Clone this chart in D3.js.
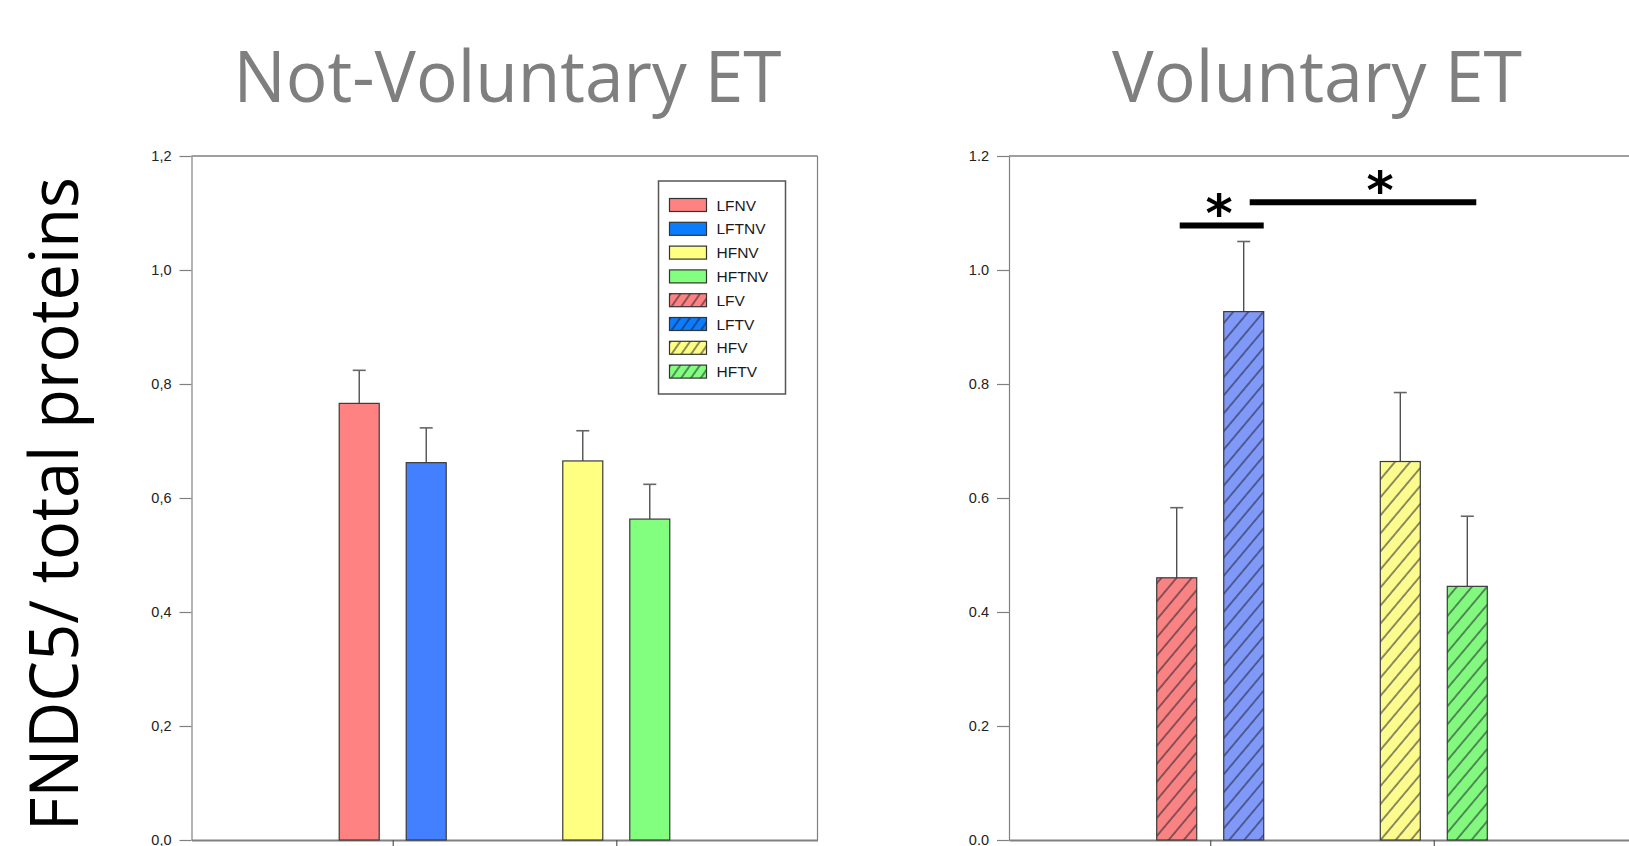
<!DOCTYPE html>
<html>
<head>
<meta charset="utf-8">
<script src="https://cdn.jsdelivr.net/npm/d3@7"></script>
<style>
  body { margin: 0; background: #fff; }
  svg { display: block; }
</style>
</head>
<body>
<svg id="chart" width="1629" height="846"></svg>
<script>

// ---- data ----
var groups = ['LF', 'HF'];
var subgroups = ['F', 'FT'];

var notVolNames = ['LFNV', 'LFTNV', 'HFNV', 'HFTNV'];
var notVolMeans = [0.766, 0.662, 0.665, 0.563];
var notVolErr   = [0.058, 0.061, 0.053, 0.061];

var volNames = ['LFV', 'LFTV', 'HFV', 'HFTV'];
var volMeans = [0.460, 0.927, 0.664, 0.445];
var volErr   = [0.123, 0.123, 0.121, 0.123];

var yTickValues = [0, 0.2, 0.4, 0.6, 0.8, 1.0, 1.2];
var yTickLabelsComma = ['0,0', '0,2', '0,4', '0,6', '0,8', '1,0', '1,2'];
var yTickLabelsDot   = ['0.0', '0.2', '0.4', '0.6', '0.8', '1.0', '1.2'];

var legendNames = ['LFNV', 'LFTNV', 'HFNV', 'HFTNV', 'LFV', 'LFTV', 'HFV', 'HFTV'];

// significance bars on the voluntary panel: [from bar, to bar], line height, star height
var sigPairs  = [[0, 1], [1, 3]];
var sigLineY  = [1.078, 1.119];
var sigStarY  = [1.116, 1.156];

// ---- look ----
var barFill = {
    LFNV: '#ff8282', LFTNV: '#4280ff', HFNV: '#ffff82', HFTNV: '#82ff7e',
    LFV: '#f98282', LFTV: '#8099f8', HFV: '#fcfb8e', HFTV: '#82f87e'
};
var legendFill = {
    LFNV: '#ff8282', LFTNV: '#0a7dff', HFNV: '#ffff82', HFTNV: '#82ff7e',
    LFV: '#ff8282', LFTV: '#0a7dff', HFV: '#ffff82', HFTV: '#82ff7e'
};
var hatched = function(name) { return /V$/.test(name) && !/NV$/.test(name); };

var plotTop = 156, plotBottom = 840, plotW = 626;
var axisGray = '#808080';

var svg = d3.select('#chart');

var defs = svg.append('defs');
function makeHatch(id, spacing, angle) {
    var p = defs.append('pattern')
        .attr('id', id)
        .attr('patternUnits', 'userSpaceOnUse')
        .attr('width', spacing)
        .attr('height', 20)
        .attr('patternTransform', 'rotate(' + angle + ')');
    p.append('line')
        .attr('x1', 1).attr('x2', 1)
        .attr('y1', 0).attr('y2', 20)
        .attr('stroke', '#1c1c2c')
        .attr('stroke-width', 1);
}
makeHatch('hatchBar', 11.6, 40);
makeHatch('hatchLegend', 8, 35);

var y = d3.scaleLinear().domain([0, 1.2]).range([plotBottom, plotTop]);

var xGroup = d3.scalePoint()
    .domain(groups)
    .range([0, plotW])
    .padding(0.9);

var xSub = d3.scaleBand()
    .domain(subgroups)
    .range([-53.5, 53.5])
    .paddingInner(27 / 67);

function barX(i) {
    return xGroup(groups[Math.floor(i / 2)]) + xSub(subgroups[i % 2]);
}

function drawPanel(cfg) {

    var g = svg.append('g')
        .attr('transform', 'translate(' + cfg.left + ',0)');

    // frame top + right
    g.append('line')
        .attr('x1', 0).attr('x2', plotW)
        .attr('y1', plotTop).attr('y2', plotTop)
        .attr('stroke', axisGray).attr('stroke-width', 1.5);
    g.append('line')
        .attr('x1', plotW).attr('x2', plotW)
        .attr('y1', plotTop).attr('y2', plotBottom)
        .attr('stroke', axisGray).attr('stroke-width', 1.2);

    var yAxis = g.append('g')
        .call(d3.axisLeft(y)
            .tickValues(yTickValues)
            .tickFormat(function(d, i) { return cfg.tickLabels[i]; })
            .tickSize(12)
            .tickSizeOuter(0)
            .tickPadding(8));
    yAxis.select('.domain').attr('stroke', axisGray).attr('stroke-width', 1.2);
    yAxis.selectAll('.tick line').attr('stroke', axisGray).attr('stroke-width', 1.2);
    yAxis.selectAll('.tick text')
        .attr('font-family', '"Liberation Sans", Arial, sans-serif')
        .attr('font-size', 14.5)
        .attr('fill', '#222');

    var xAxis = g.append('g')
        .attr('transform', 'translate(0,' + plotBottom + ')')
        .call(d3.axisBottom(xGroup)
            .tickFormat('')
            .tickSize(9)
            .tickSizeOuter(0));
    xAxis.select('.domain').attr('stroke', axisGray).attr('stroke-width', 2);
    xAxis.selectAll('.tick line').attr('stroke', '#555').attr('stroke-width', 1.2);

    var data = cfg.names.map(function(n, i) {
        return { name: n, mean: cfg.means[i], err: cfg.errs[i], i: i };
    });

    // error bars (upper whisker only)
    var eb = g.selectAll('.err').data(data).enter().append('g').attr('class', 'err');
    eb.append('line')
        .attr('x1', function(d) { return barX(d.i) + xSub.bandwidth() / 2; })
        .attr('x2', function(d) { return barX(d.i) + xSub.bandwidth() / 2; })
        .attr('y1', function(d) { return y(d.mean); })
        .attr('y2', function(d) { return y(d.mean + d.err); })
        .attr('stroke', '#444').attr('stroke-width', 1.3);
    eb.append('line')
        .attr('x1', function(d) { return barX(d.i) + xSub.bandwidth() / 2 - 6.5; })
        .attr('x2', function(d) { return barX(d.i) + xSub.bandwidth() / 2 + 6.5; })
        .attr('y1', function(d) { return y(d.mean + d.err); })
        .attr('y2', function(d) { return y(d.mean + d.err); })
        .attr('stroke', '#666').attr('stroke-width', 1.6);

    var bars = g.selectAll('.bar').data(data).enter().append('g').attr('class', 'bar');
    bars.append('rect')
        .attr('x', function(d) { return barX(d.i); })
        .attr('y', function(d) { return y(d.mean); })
        .attr('width', xSub.bandwidth())
        .attr('height', function(d) { return plotBottom - y(d.mean); })
        .attr('fill', function(d) { return barFill[d.name]; });
    bars.filter(function(d) { return hatched(d.name); })
        .append('rect')
        .attr('x', function(d) { return barX(d.i); })
        .attr('y', function(d) { return y(d.mean); })
        .attr('width', xSub.bandwidth())
        .attr('height', function(d) { return plotBottom - y(d.mean); })
        .attr('fill', 'url(#hatchBar)');
    bars.append('rect')
        .attr('x', function(d) { return barX(d.i); })
        .attr('y', function(d) { return y(d.mean); })
        .attr('width', xSub.bandwidth())
        .attr('height', function(d) { return plotBottom - y(d.mean); })
        .attr('fill', 'none')
        .attr('stroke', '#3a3a3a')
        .attr('stroke-width', 1.2);

    // title
    svg.append('text')
        .attr('x', cfg.left + cfg.titleDx)
        .attr('y', 101.5)
        .attr('text-anchor', 'middle')
        .attr('font-family', '"Open Sans", "Noto Sans", sans-serif')
        .attr('font-size', 71)
        .attr('fill', '#7f7f7f')
        .attr('textLength', cfg.titleLen)
        .attr('lengthAdjust', 'spacingAndGlyphs')
        .text(cfg.title);

    return g;
}

var left = drawPanel({
    left: 191.5,
    names: notVolNames, means: notVolMeans, errs: notVolErr,
    tickLabels: yTickLabelsComma,
    title: 'Not-Voluntary ET', titleDx: 316, titleLen: 548
});

var right = drawPanel({
    left: 1009,
    names: volNames, means: volMeans, errs: volErr,
    tickLabels: yTickLabelsDot,
    title: 'Voluntary ET', titleDx: 308, titleLen: 410
});

// legend in the not-voluntary panel
var lg = left.append('g').attr('transform', 'translate(467,181)');
lg.append('rect')
    .attr('width', 127).attr('height', 213)
    .attr('fill', '#fff')
    .attr('stroke', '#555').attr('stroke-width', 1.5);
var item = lg.selectAll('.item').data(legendNames).enter().append('g')
    .attr('class', 'item')
    .attr('transform', function(d, i) { return 'translate(11,' + (17.5 + i * 23.8) + ')'; });
item.append('rect')
    .attr('width', 37).attr('height', 13)
    .attr('fill', function(d) { return legendFill[d]; });
item.filter(function(d) { return hatched(d); }).append('rect')
    .attr('width', 37).attr('height', 13)
    .attr('fill', 'url(#hatchLegend)');
item.append('rect')
    .attr('width', 37).attr('height', 13)
    .attr('fill', 'none')
    .attr('stroke', '#333').attr('stroke-width', 1.2);
item.append('text')
    .attr('x', 47).attr('y', 12)
    .attr('font-family', '"Liberation Sans", Arial, sans-serif')
    .attr('font-size', 15.5)
    .attr('fill', '#1a1a1a')
    .text(function(d) { return d; });

// significance marks on the voluntary panel
var cx = function(i) { return barX(i) + xSub.bandwidth() / 2; };
var sigExt = [[3, 20], [6, 9]];
var starDx = [-2.5, 17];
sigPairs.forEach(function(p, k) {
    var x1 = cx(p[0]) + sigExt[k][0], x2 = cx(p[1]) + sigExt[k][1];
    right.append('line')
        .attr('x1', x1).attr('x2', x2)
        .attr('y1', y(sigLineY[k])).attr('y2', y(sigLineY[k]))
        .attr('stroke', '#000').attr('stroke-width', 6);
    right.append('text')
        .attr('x', (x1 + x2) / 2 + starDx[k])
        .attr('y', y(sigStarY[k]) + 27)
        .attr('text-anchor', 'middle')
        .attr('font-family', '"DejaVu Sans", sans-serif')
        .attr('font-weight', 'bold')
        .attr('font-size', 52)
        .attr('fill', '#000')
        .text('*');
});

// shared y label
svg.append('text')
    .attr('transform', 'translate(78,504) rotate(-90)')
    .attr('text-anchor', 'middle')
    .attr('font-family', '"Open Sans", "Noto Sans", sans-serif')
    .attr('font-size', 68)
    .attr('fill', '#000')
    .attr('textLength', 654)
    .attr('lengthAdjust', 'spacingAndGlyphs')
    .text('FNDC5/ total proteins');

</script>
</body>
</html>
